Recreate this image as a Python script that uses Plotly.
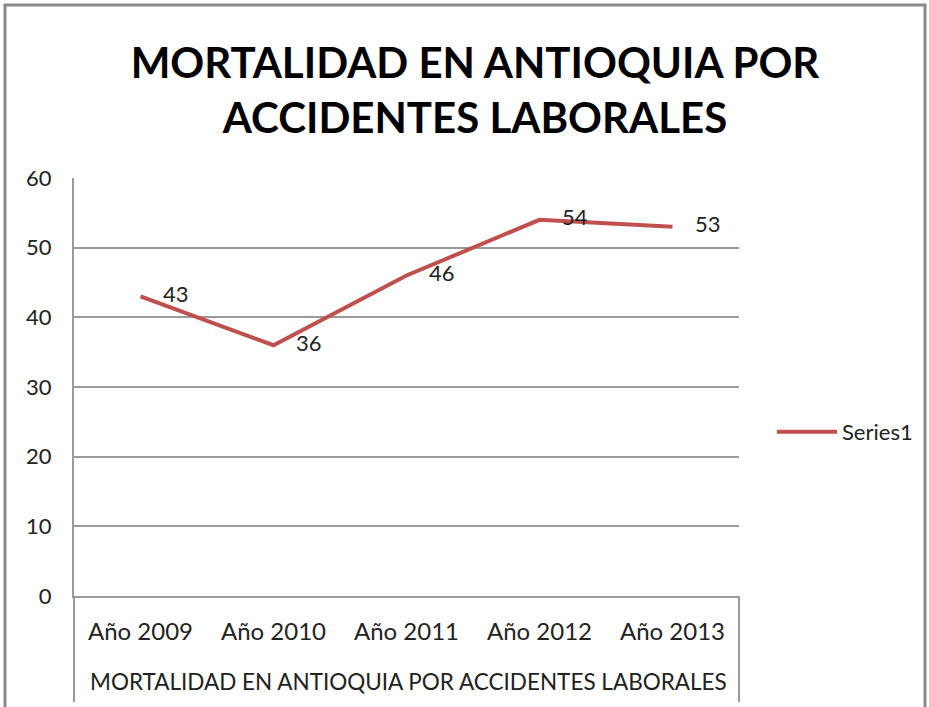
import plotly.graph_objects as go

# datos
anios = ["Año 2009", "Año 2010", "Año 2011", "Año 2012", "Año 2013"]
grupo = "MORTALIDAD EN ANTIOQUIA POR ACCIDENTES LABORALES"
muertes = [43, 36, 46, 54, 53]
serie = "Series1"

W, H = 929, 707
L, R, T, B = 74, 190, 178, 111
pw, ph = W - L - R, H - T - B
GRIS = "#9a9a9a"
FUENTE = "Lato, Open Sans, sans-serif"


def px_x(x):
    return (x - L) / pw


def px_y(y):
    return (H - B - y) / ph


fig = go.Figure()

fig.add_trace(
    go.Scatter(
        x=anios,
        y=muertes,
        name=serie,
        mode="lines+text",
        text=["\u00a0\u00a0\u00a0\u00a0" + str(v) for v in muertes],
        textposition="middle right",
        textfont=dict(family=FUENTE, size=22, color="#222"),
        line=dict(color="#C0504D", width=4),
        cliponaxis=False,
    )
)

# divisores bajo el eje (caja de categorias)
divisores = [
    dict(type="line", xref="paper", yref="paper",
         x0=xx, x1=xx, y0=0, y1=px_y(702),
         line=dict(color=GRIS, width=2))
    for xx in (0, 1)
]

fig.update_layout(
    width=W,
    height=H,
    paper_bgcolor="white",
    plot_bgcolor="white",
    showlegend=True,
    margin=dict(l=L, r=R, t=T, b=B, autoexpand=False),
    font=dict(family=FUENTE, size=22, color="#222"),
    title=dict(
        text="<b>MORTALIDAD EN ANTIOQUIA POR<br>ACCIDENTES LABORALES</b>",
        x=475 / W,
        xanchor="center",
        y=1 - 78 / H,
        yanchor="middle",
        font=dict(family=FUENTE, size=42, color="black"),
    ),
    legend=dict(
        x=px_x(772),
        y=px_y(432),
        xanchor="left",
        yanchor="middle",
        font=dict(size=22, color="#222"),
        itemwidth=60,
    ),
    xaxis=dict(
        type="category",
        range=[-0.5, len(anios) - 0.5],
        showgrid=False,
        showline=True,
        linecolor=GRIS,
        linewidth=2,
        ticks="",
        ticklabelstandoff=13,
        tickfont=dict(size=24, color="#222"),
    ),
    yaxis=dict(
        range=[0, 60],
        dtick=10,
        showgrid=True,
        gridcolor=GRIS,
        gridwidth=1.5,
        showline=True,
        linecolor=GRIS,
        linewidth=2,
        zeroline=False,
        ticks="",
        ticklabelstandoff=16,
        tickfont=dict(size=22, color="#222"),
    ),
    annotations=[
        dict(
            text=grupo,
            xref="paper",
            yref="paper",
            x=px_x(408),
            y=px_y(681),
            xanchor="center",
            yanchor="middle",
            showarrow=False,
            font=dict(size=22.5, color="#222"),
        )
    ],
    shapes=divisores + [
        dict(
            type="rect",
            xref="paper",
            yref="paper",
            x0=px_x(5),
            x1=px_x(925),
            y0=px_y(720),
            y1=px_y(5),
            line=dict(color="#8a8a8a", width=3),
            layer="below",
        )
    ],
)

fig.write_html(
    "out.html",
    config={"displayModeBar": False},
    post_script="document.body.style.margin='0';document.body.style.overflow='hidden';",
)
